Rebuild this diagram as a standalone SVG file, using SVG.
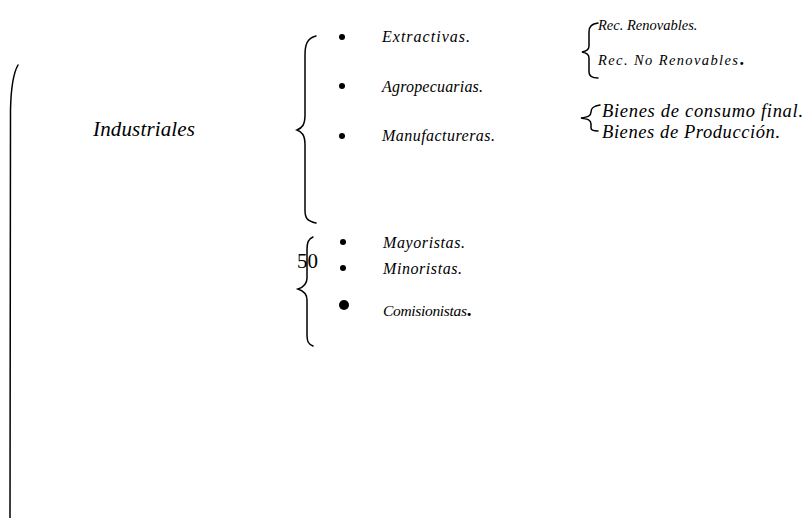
<svg xmlns="http://www.w3.org/2000/svg" width="811" height="518" viewBox="0 0 811 518">
<style>
.t{font-family:"Liberation Serif","Times New Roman",serif;font-style:italic;fill:#000}
.s{font-size:16px}
.r{font-size:14.5px}
.b{font-size:18.5px}
.br{fill:none;stroke:#000;stroke-width:1.5;stroke-linecap:round}
.dot{fill:#000}
</style>
<rect width="811" height="518" fill="#fff"/>
<g id="connectors">
<path class="br" d="M18,65 C14,72 11,85 10.5,110 L10,518"/>
<path class="br" d="M316,36 C307,38 305,45 305,55 L305,115 C305,125 302,128 297,130 C302,132 305,135 305,145 L305,210 C305,218 307,221 316,223"/>
<path class="br" d="M313,237 C308,239 307,243 307,250 L307,278 C307,284 304,287 298,289 C304,291 307,294 307,300 L307,335 C307,341 308,344 313,346"/>
<path class="br" d="M598,23 C592,24 589,26 589,32 L589,46 C589,50 586,51 582,52 C586,53 589,54 589,58 L589,72 C589,76 592,78 598,78"/>
<path class="br" d="M600,105 C593,106 591,108 591,112 C591,116 588,117 581,118 C588,119 591,120 591,124 L591,128 C591,130 593,131 598,131"/>
</g>
<g id="industriales"><text class="t" x="93" y="136" font-size="21" textLength="102">Industriales</text></g>
<g id="extractivas"><circle class="dot" cx="342" cy="37" r="3"/><text class="t s" x="382" y="42" textLength="88">Extractivas.</text></g>
<g id="agropecuarias"><circle class="dot" cx="342" cy="86" r="3"/><text class="t s" x="382" y="92" textLength="101">Agropecuarias.</text></g>
<g id="manufactureras"><circle class="dot" cx="342" cy="136" r="3"/><text class="t s" x="382" y="141" textLength="113">Manufactureras.</text></g>
<g id="renovables"><text class="t r" x="598" y="30">Rec. Renovables.</text></g>
<g id="norenovables"><text class="t r" x="598" y="65"><tspan textLength="140">Rec. No Renovables</tspan><tspan font-style="normal" font-weight="bold" font-size="18">.</tspan></text></g>
<g id="consumo"><text class="t b" x="602" y="117" textLength="201">Bienes de consumo final.</text></g>
<g id="produccion"><text class="t b" x="602" y="138" textLength="178">Bienes de Producción.</text></g>
<g id="num"><text x="297" y="268" font-family="Liberation Serif, serif" font-size="21">50</text></g>
<g id="mayoristas"><circle class="dot" cx="343" cy="242" r="3"/><text class="t s" x="383" y="248" textLength="82">Mayoristas.</text></g>
<g id="minoristas"><circle class="dot" cx="343" cy="268" r="3"/><text class="t s" x="383" y="274" textLength="79">Minoristas.</text></g>
<g id="comisionistas"><circle class="dot" cx="344" cy="305" r="5"/><text class="t" x="383" y="316" font-size="15.5"><tspan textLength="84">Comisionistas</tspan><tspan font-style="normal" font-weight="bold" font-size="19">.</tspan></text></g>
</svg>
